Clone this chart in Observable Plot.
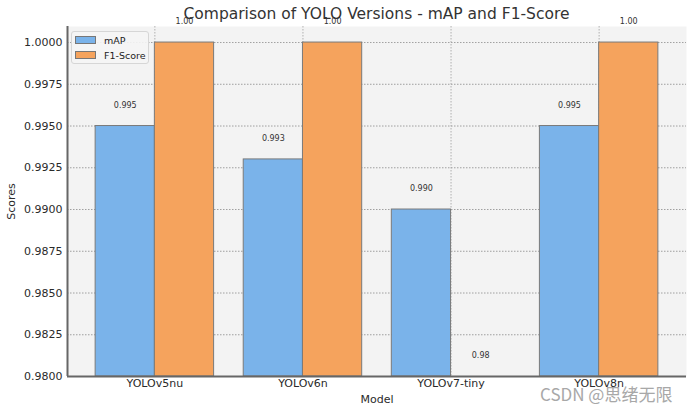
<!DOCTYPE html>
<html>
<head>
<meta charset="utf-8">
<script src="https://cdn.jsdelivr.net/npm/d3@7"></script>
<script src="https://cdn.jsdelivr.net/npm/@observablehq/plot@0.6"></script>
<style>
  html, body { margin: 0; padding: 0; background: #ffffff; }
  #wrap { position: relative; width: 692px; height: 414px; font-family: "DejaVu Sans", sans-serif; overflow: hidden; }
  #title { position: absolute; left: 0; width: 753px; top: 5px; text-align: center; font-size: 15.5px; color: #333; white-space: nowrap; }
  #legend { position: absolute; left: 71px; top: 31px; width: 76px; height: 31px; background: rgba(245,245,245,0.9); border: 1px solid #d6d6d6; border-radius: 3px; font-size: 9.5px; color: #222; }
  .li { position: absolute; left: 3px; height: 12px; display: flex; align-items: center; }
  .sw { width: 19px; height: 6px; border: 1px solid #777; margin-right: 8px; }
  #wm { position: absolute; left: 540px; top: 381px; font-size: 17px; color: #a8a8a8; white-space: nowrap; font-family: "Noto Sans CJK SC", "DejaVu Sans", sans-serif; }
</style>
</head>
<body>
<div id="wrap">
  <div id="chart"></div>
  <div id="title">Comparison of YOLO Versions - mAP and F1-Score</div>
  <div id="legend"></div>
  <div id="wm">CSDN @思绪无限</div>
</div>
<script>
const models = ["YOLOv5nu", "YOLOv6n", "YOLOv7-tiny", "YOLOv8n"];
const mapValues = [0.995, 0.993, 0.990, 0.995];
const f1Values = [1.00, 1.00, 0.98, 1.00];
const seriesNames = ["mAP", "F1-Score"];
const seriesColors = ["#7ab3ea", "#f5a35d"];
const yTicks = [0.9800, 0.9825, 0.9850, 0.9875, 0.9900, 0.9925, 0.9950, 0.9975, 1.0000];
const yDomain = [0.98, 1.00096];
const xDomain = [-0.59, 3.59];
const barWidth = 0.4;

const rows = [];
models.forEach((m, i) => {
  [mapValues[i], f1Values[i]].forEach((v, s) => {
    const x1 = i - barWidth + s * barWidth;
    rows.push({
      model: m, series: seriesNames[s], value: v,
      x1, x2: x1 + barWidth, xm: x1 + barWidth / 2,
      label: s === 0 ? v.toFixed(3) : v.toFixed(2)
    });
  });
});

const chart = Plot.plot({
  width: 692,
  height: 414,
  marginLeft: 67,
  marginRight: 6,
  marginTop: 26,
  marginBottom: 38,
  style: { fontFamily: "DejaVu Sans, sans-serif", fontSize: "11px", color: "#2a2a2a", background: "transparent" },
  x: {
    domain: xDomain,
    ticks: [0, 1, 2, 3],
    tickFormat: i => models[i],
    tickSize: 0,
    tickPadding: 3,
    label: "Model",
    labelAnchor: "center",
    labelArrow: "none",
    labelOffset: 26
  },
  y: {
    domain: yDomain,
    ticks: yTicks,
    tickFormat: d => d.toFixed(4),
    tickSize: 0,
    tickPadding: 5,
    label: "Scores",
    labelAnchor: "center",
    labelArrow: "none",
    labelOffset: 60
  },
  color: { domain: seriesNames, range: seriesColors },
  marks: [
    Plot.frame({ fill: "#f3f3f3", stroke: null }),
    Plot.gridY(yTicks, { stroke: "#8a8a8a", strokeOpacity: 1, strokeDasharray: "1.5,1.5", strokeWidth: 0.8 }),
    Plot.gridX([0, 1, 2, 3], { stroke: "#a0a0a0", strokeOpacity: 1, strokeDasharray: "1.5,1.5", strokeWidth: 0.8 }),
    Plot.rectY(rows, { x1: "x1", x2: "x2", y1: yDomain[0], y2: "value", fill: "series", stroke: "#7a7a7a", strokeWidth: 1 }),
    Plot.text(rows, { x: "xm", y: "value", text: "label", dy: -21, fontSize: 8, fill: "#333" }),
    Plot.ruleX([xDomain[0]], { stroke: "#666", strokeWidth: 2 }),
    Plot.ruleY([yDomain[0]], { stroke: "#666", strokeWidth: 2 })
  ]
});
document.getElementById("chart").appendChild(chart);

const legend = document.getElementById("legend");
seriesNames.forEach((name, s) => {
  const item = document.createElement("div");
  item.className = "li";
  item.style.top = (2 + s * 15) + "px";
  const sw = document.createElement("div");
  sw.className = "sw";
  sw.style.background = seriesColors[s];
  const t = document.createElement("span");
  t.textContent = name;
  item.appendChild(sw);
  item.appendChild(t);
  legend.appendChild(item);
});
</script>
</body>
</html>
